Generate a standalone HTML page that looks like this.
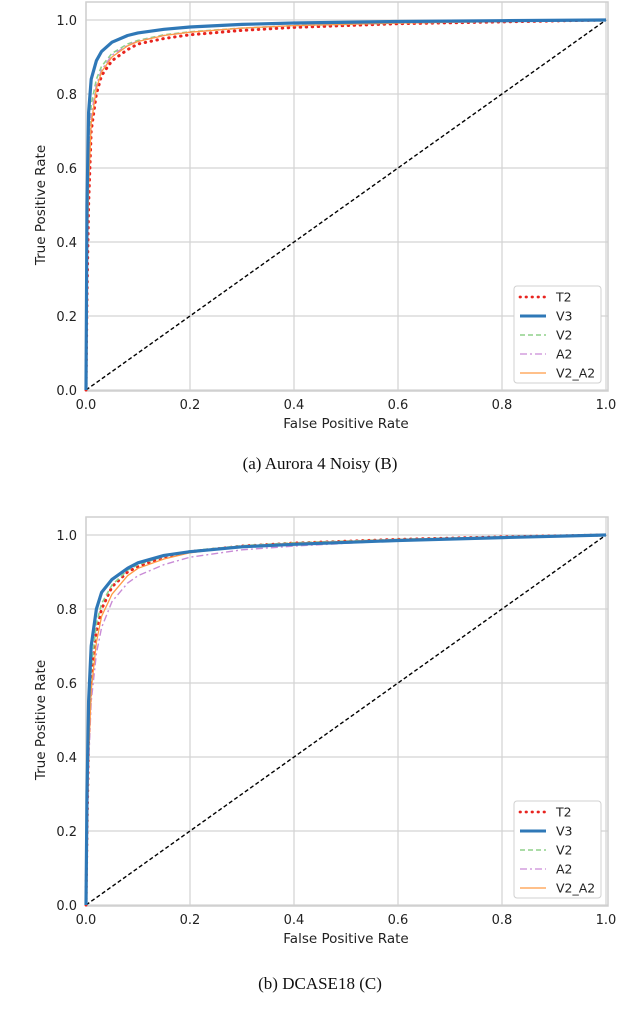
<!DOCTYPE html>
<html><head><meta charset="utf-8"><style>
body{margin:0;background:#fff;width:640px;height:1026px;overflow:hidden;font-family:"DejaVu Sans","Liberation Sans",sans-serif}
.cap{position:absolute;width:640px;text-align:center;font-family:"Liberation Serif",serif;font-size:17px;color:#111}
</style></head><body>
<svg id="s" width="640" height="1026" style="position:absolute;left:0;top:0"></svg>
<div class="cap" style="top:454px">(a) Aurora 4 Noisy (B)</div>
<div class="cap" style="top:974px">(b) DCASE18 (C)</div>
<script>
const fpr=[0,0.002,0.005,0.01,0.02,0.03,0.05,0.08,0.1,0.15,0.2,0.3,0.4,0.6,0.8,1];
const ticks=[0,0.2,0.4,0.6,0.8,1.0];
const seriesNames=["T2","V3","V2","A2","V2_A2"];
const a_T2=[0,0.25,0.5,0.7,0.8,0.85,0.89,0.92,0.935,0.95,0.96,0.972,0.98,0.99,0.995,1];
const a_V3=[0,0.5,0.75,0.84,0.89,0.915,0.94,0.958,0.965,0.975,0.981,0.988,0.992,0.996,0.998,1];
const a_V2=[0,0.4,0.65,0.77,0.84,0.875,0.91,0.935,0.945,0.96,0.968,0.978,0.985,0.992,0.996,1];
const a_A2=[0,0.35,0.6,0.74,0.825,0.865,0.905,0.932,0.943,0.958,0.967,0.978,0.985,0.992,0.996,1];
const a_V2A2=[0,0.3,0.55,0.72,0.815,0.86,0.9,0.93,0.942,0.958,0.967,0.978,0.985,0.992,0.996,1];
const b_T2=[0,0.2,0.45,0.62,0.74,0.8,0.86,0.9,0.915,0.94,0.955,0.97,0.978,0.988,0.995,1];
const b_V3=[0,0.3,0.55,0.7,0.8,0.845,0.88,0.91,0.925,0.945,0.955,0.968,0.975,0.985,0.993,1];
const b_V2=[0,0.22,0.48,0.64,0.76,0.815,0.865,0.905,0.92,0.942,0.957,0.971,0.979,0.988,0.995,1];
const b_A2=[0,0.15,0.38,0.55,0.68,0.75,0.82,0.87,0.89,0.92,0.94,0.96,0.97,0.985,0.993,1];
const b_V2A2=[0,0.15,0.4,0.58,0.71,0.78,0.84,0.89,0.91,0.935,0.952,0.97,0.978,0.988,0.995,1];
const styles=[
 {c:"#e8241f",w:3,d:"0.5,5.5",cap:"round"},
 {c:"#2f78b7",w:3.2,d:""},
 {c:"#8fd18a",w:1.6,d:"5,3"},
 {c:"#c98bd6",w:1.4,d:"7,3,2,3"},
 {c:"#ff9a45",w:1.3,d:""}];
const NS="http://www.w3.org/2000/svg";
const svg=document.getElementById('s');
function el(t,a,p){const e=document.createElementNS(NS,t);for(const k in a)e.setAttribute(k,a[k]);(p||svg).appendChild(e);return e;}
function chart(top,data,id){
 const L=86,R=606,y0=top+388,y1=top+18;
 const X=v=>L+v*(R-L), Y=v=>y0-v*(y0-y1);
 const g=el('g',{});
 
 
 ticks.forEach(t=>{
  const gx=el('line',{x1:X(t),x2:X(t),y1:top,y2:top+389,stroke:"#d3d3d3","stroke-width":1.2},g);
  
  const gy=el('line',{x1:L,x2:R+2,y1:Y(t),y2:Y(t),stroke:"#d3d3d3","stroke-width":1.2},g);
  
  const tx=el('text',{x:X(t),y:top+407,"text-anchor":"middle","font-size":13,fill:"#222"},g);tx.textContent=t.toFixed(1);
  
  const ty=el('text',{x:L-9,y:Y(t)+5,"text-anchor":"end","font-size":13,fill:"#222"},g);ty.textContent=t.toFixed(1);
  
 });
 const fr=el('rect',{x:L,y:top,width:R+2-L,height:389,fill:"none",stroke:"#cfcfcf","stroke-width":1.5},g);
 
 const diag=el('line',{x1:X(0),y1:Y(0),x2:X(1),y2:Y(1),stroke:"#000","stroke-width":1.4,"stroke-dasharray":"4,2.5"},g);
 
 [0,2,3,4,1].forEach(i=>{
  const s=styles[i];
  const pts=fpr.map((f,j)=>X(f).toFixed(1)+","+Y(data[i][j]).toFixed(1)).join(" ");
  const p=el('polyline',{points:pts,fill:"none",stroke:s.c,"stroke-width":s.w,"stroke-dasharray":s.d,"stroke-linecap":s.cap||"butt","stroke-linejoin":"round"},g);
  
  
 });
 const xl=el('text',{x:346,y:top+426,"text-anchor":"middle","font-size":13.5,fill:"#222"},g);xl.textContent="False Positive Rate";
 
 const yl=el('text',{x:0,y:0,"text-anchor":"middle","font-size":13.5,fill:"#222",transform:`translate(45,${top+203}) rotate(-90)`},g);yl.textContent="True Positive Rate";
 
 const lg=el('g',{},g);
 
 el('rect',{x:514,y:top+284,width:87,height:97,rx:3,fill:"#fff",stroke:"#d0d0d0","stroke-width":1},lg);
 seriesNames.forEach((n,i)=>{
  const s=styles[i],yy=top+295+i*19;
  const ln=el('line',{x1:520,x2:546,y1:yy,y2:yy,stroke:s.c,"stroke-width":s.w*0.9,"stroke-dasharray":s.d,"stroke-linecap":s.cap||"butt"},lg);
  
  const t=el('text',{x:556,y:yy+4.5,"font-size":12.5,fill:"#222"},lg);t.textContent=n;
  
 });
}
chart(2,[a_T2,a_V3,a_V2,a_A2,a_V2A2],'a');
chart(517,[b_T2,b_V3,b_V2,b_A2,b_V2A2],'b');
</script>
</body></html>
